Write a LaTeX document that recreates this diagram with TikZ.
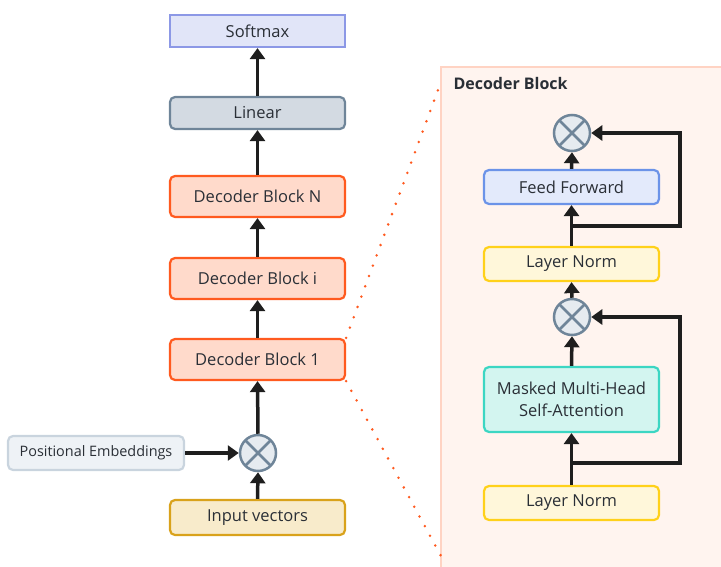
\documentclass[tikz,border=0pt]{standalone}
\usepackage{fontspec}
\setmainfont{Open Sans}
\usetikzlibrary{arrows.meta}
\definecolor{txt}{HTML}{2A2F36}
\definecolor{smF}{HTML}{E1E5F8}\definecolor{smD}{HTML}{8C98E6}
\definecolor{linF}{HTML}{D3DAE2}\definecolor{linD}{HTML}{6F8599}
\definecolor{decF}{HTML}{FFDACB}\definecolor{decD}{HTML}{FF5A1F}
\definecolor{posF}{HTML}{EEF2F6}\definecolor{posD}{HTML}{C9D4DE}
\definecolor{inF}{HTML}{F8EBCB}\definecolor{inD}{HTML}{D9A21B}
\definecolor{panF}{HTML}{FFF4EF}\definecolor{panD}{HTML}{FFD3C3}
\definecolor{ffF}{HTML}{E3EAFB}\definecolor{ffD}{HTML}{6B93E8}
\definecolor{lnF}{HTML}{FFF7DA}\definecolor{lnD}{HTML}{FFD11A}
\definecolor{atF}{HTML}{D3F5F0}\definecolor{atD}{HTML}{3CD6C3}
\definecolor{opF}{HTML}{E6EBF0}\definecolor{arr}{HTML}{1E1E1E}
\begin{document}
\begin{tikzpicture}[x=1pt,y=-1pt,
  box/.style={rounded corners=5pt,line width=2.2pt,minimum width=175pt,inner sep=0pt,text=txt,font=\fontsize{16.5}{22}\selectfont,align=center},
  op/.style={circle,draw=linD,fill=opF,line width=2.5pt,minimum size=36pt,inner sep=0pt,
    path picture={\draw[linD,line width=2.5pt] (path picture bounding box.south west)++(5.3pt,5.3pt) -- ([xshift=-5.3pt,yshift=-5.3pt]path picture bounding box.north east);
    \draw[linD,line width=2.5pt] ([xshift=5.3pt,yshift=-5.3pt]path picture bounding box.north west) -- ([xshift=-5.3pt,yshift=5.3pt]path picture bounding box.south east);}},
  ar/.style={draw=arr,line width=3.5pt,-{Triangle[width=15pt,length=11pt]}},
  dots/.style={draw=decD,line width=2.8pt,line cap=round,dash pattern=on 0pt off 11pt}]
\useasboundingbox (0,0) rectangle (721,567);
% panel
\path[fill=panF,draw=panD,line width=1.5pt] (441,67) rectangle (724,570);
\node[anchor=west,text=txt,font=\fontsize{16}{19}\selectfont\bfseries] (title) at (450,84) {Decoder Block};
% left column
\node[box,fill=smF,draw=smD,rounded corners=0pt,minimum height=32pt] (soft) at (257.5,31) {Softmax};
\node[box,fill=linF,draw=linD,minimum height=32pt] (lin) at (257.5,113) {Linear};
\node[box,fill=decF,draw=decD,minimum height=41pt] (decN) at (257.5,196.5) {Decoder Block N};
\node[box,fill=decF,draw=decD,minimum height=41pt] (deci) at (257.5,278.5) {Decoder Block i};
\node[box,fill=decF,draw=decD,minimum height=41pt] (dec1) at (257.5,359.5) {Decoder Block 1};
\node[box,fill=posF,draw=posD,minimum width=176pt,minimum height=34pt,font=\fontsize{14.4}{17}\selectfont] (pos) at (96,453) {Positional Embeddings};
\node[op] (opL) at (258,453) {};
\node[box,fill=inF,draw=inD,minimum height=35pt] (inp) at (257.5,517.5) {Input vectors};
\draw[ar] (inp.north) -- (opL.south);
\draw[ar] (pos.east) -- (opL.west);
\draw[ar] (opL.north) -- (dec1.south);
\draw[ar] (dec1.north) -- (deci.south);
\draw[ar] (deci.north) -- (decN.south);
\draw[ar] (decN.north) -- (lin.south);
\draw[ar] (lin.north) -- (soft.south);
% dotted connectors
\coordinate (pTop) at (441,82);
\coordinate (pBot) at (441,556);
\draw[dots] (dec1.north east) -- (pTop);
\draw[dots] (dec1.south east) -- (pBot);
% right column
\node[op] (opT) at (572,133) {};
\node[box,fill=ffF,draw=ffD,minimum height=34pt] (ff) at (571.5,187) {Feed Forward};
\node[box,fill=lnF,draw=lnD,minimum height=34pt] (ln2) at (571.5,264) {Layer Norm};
\node[op] (opM) at (572,317) {};
\node[box,fill=atF,draw=atD,minimum height=65pt] (att) at (571.5,399.5) {Masked Multi-Head\\Self-Attention};
\node[box,fill=lnF,draw=lnD,minimum height=34pt] (ln1) at (571.5,503) {Layer Norm};
\coordinate (b1) at (572,463);
\coordinate (b2) at (572,226);
\draw[ar] (ln1.north) -- (att.south);
\draw[ar] (b1) -| (680,317) -- (opM.east);
\draw[ar] (att.north) -- (opM.south);
\draw[ar] (opM.north) -- (ln2.south);
\draw[ar] (ln2.north) -- (ff.south);
\draw[ar] (b2) -| (680,133) -- (opT.east);
\draw[ar] (ff.north) -- (opT.south);
\end{tikzpicture}
\end{document}
